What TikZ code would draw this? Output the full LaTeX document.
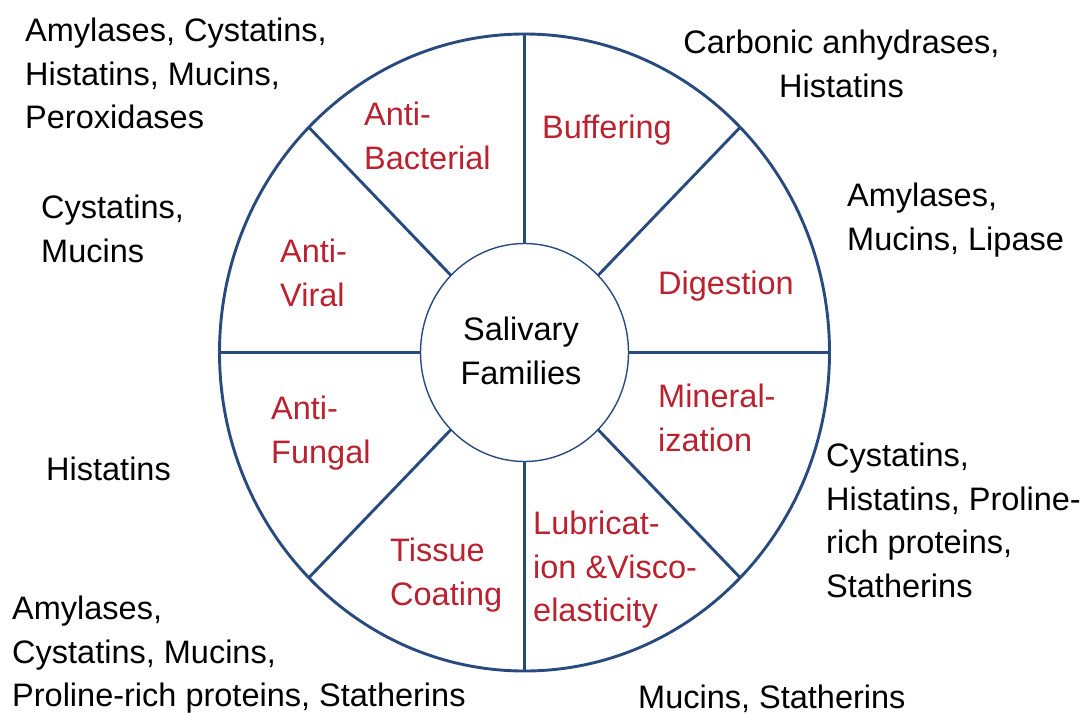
\documentclass[tikz,border=0pt]{standalone}
\usepackage{fontspec}
\setmainfont{Liberation Sans}
\definecolor{wielblauw}{HTML}{284A7C}
\definecolor{functierood}{HTML}{BA2230}

\begin{document}
\begin{tikzpicture}[x=1pt, y=-1pt,
    every node/.style={font=\fontsize{32.5}{43.5}\selectfont, inner sep=0pt},
    functie/.style={functierood, anchor=north west, align=left},
    familie/.style={black, anchor=north west, align=left}]
    \useasboundingbox (0,0) rectangle (1086,715);

    % Wiel: buitenste cirkel en spaken
    \begin{scope}[shift={(524.5,352.5)}, wielblauw]
        \draw[line width=2.9pt] (0,0) ellipse (305 and 318.5);
        \foreach \hoek in {0,45,...,315}
            \draw[line width=2.9pt] (\hoek:104 and 109) -- (\hoek:305 and 318.5);
        % Binnenste cirkel
        \draw[line width=1.4pt] (0,0) ellipse (104 and 109);
    \end{scope}

    % Midden
    \node[black, anchor=north, align=center] (speeksel) at (521,317) {Salivary\\Families};

    % Functies in de segmenten
    \node[functie] (bacterie) at (364,102) {Anti-\\Bacterial};
    \node[functie] (buffer) at (542,115) {Buffering};
    \node[functie] (viraal) at (280,239) {Anti-\\Viral};
    \node[functie] (vertering) at (658,271) {Digestion};
    \node[functie] (mineraal) at (658,384) {Mineral-\\ization};
    \node[functie] (schimmel) at (271,396) {Anti-\\Fungal};
    \node[functie] (weefsel) at (390,538) {Tissue\\Coating};
    \node[functie] (smering) at (533,511) {Lubricat-\\ion \&Visco-\\elasticity};

    % Eiwitfamilies rondom
    \node[familie] (famBacterie) at (25,18) {Amylases, Cystatins,\\Histatins, Mucins,\\Peroxidases};
    \node[black, anchor=north, align=center] (famBuffer) at (841.5,30) {Carbonic anhydrases,\\Histatins};
    \node[familie] (famVertering) at (847,183) {Amylases,\\Mucins, Lipase};
    \node[familie] (famViraal) at (41,195) {Cystatins,\\Mucins};
    \node[familie] (famSchimmel) at (46,457) {Histatins};
    \node[familie] (famMineraal) at (826,443) {Cystatins,\\Histatins, Proline-\\rich proteins,\\Statherins};
    \node[familie] (famWeefsel) at (12,596) {Amylases,\\Cystatins, Mucins,\\Proline-rich proteins, Statherins};
    \node[familie] (famSmering) at (638,685) {Mucins, Statherins};
\end{tikzpicture}
\end{document}
